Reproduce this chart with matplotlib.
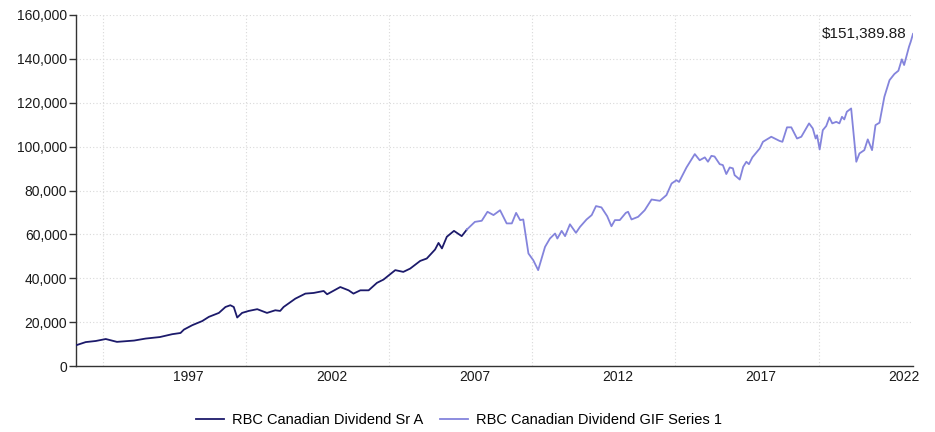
import matplotlib
matplotlib.use("Agg")
import matplotlib.pyplot as plt
import numpy as np
from matplotlib.ticker import FuncFormatter, FixedLocator

plt.rcParams['font.family'] = ['Liberation Sans', 'DejaVu Sans']

# ---- data (values in thousands of dollars) ----
series_a_name = "RBC Canadian Dividend Sr A"
series_b_name = "RBC Canadian Dividend GIF Series 1"

years_a = [1993.06, 1993.41, 1993.76, 1994.11, 1994.5, 1995.1, 1995.5, 1996.0, 1996.43, 1996.72,
           1996.84, 1997.13, 1997.48, 1997.71, 1998.06, 1998.29, 1998.46, 1998.58, 1998.70, 1998.87,
           1999.1, 1999.4, 1999.74, 2000.03, 2000.2, 2000.32, 2000.73, 2001.08, 2001.37, 2001.72,
           2001.84, 2002.3, 2002.59, 2002.76, 2003.0, 2003.29, 2003.58, 2003.81, 2004.22, 2004.5,
           2004.74, 2005.09, 2005.32, 2005.61, 2005.73, 2005.85, 2006.02, 2006.27, 2006.54, 2006.72]
values_a_k = [9.4, 10.9, 11.4, 12.3, 11.0, 11.6, 12.5, 13.2, 14.5, 15.05,
              16.6, 18.6, 20.5, 22.4, 24.2, 26.9, 27.7, 26.9, 22.1, 24.2,
              25.1, 25.9, 24.2, 25.4, 25.1, 26.9, 30.7, 33.0, 33.3, 34.2,
              32.7, 36.0, 34.5, 33.0, 34.5, 34.5, 37.9, 39.4, 43.7, 42.9,
              44.4, 47.9, 49.0, 53.1, 56.1, 53.6, 58.9, 61.6, 59.2, 62.2]

years_b = [2006.72, 2007.0, 2007.24, 2007.44, 2007.65, 2007.88, 2008.11, 2008.29, 2008.44, 2008.58,
           2008.69, 2008.87, 2009.04, 2009.21, 2009.45, 2009.62, 2009.80, 2009.88, 2010.03, 2010.15,
           2010.32, 2010.53, 2010.67, 2010.9, 2011.08, 2011.23, 2011.42, 2011.62, 2011.77, 2011.89,
           2012.06, 2012.27, 2012.35, 2012.47, 2012.70, 2012.93, 2013.17, 2013.46, 2013.69, 2013.87,
           2014.04, 2014.13, 2014.39, 2014.68, 2014.85, 2015.03, 2015.14, 2015.26, 2015.37, 2015.55,
           2015.66, 2015.78, 2015.9, 2016.01, 2016.07, 2016.25, 2016.37, 2016.48, 2016.57, 2016.69,
           2016.95, 2017.06, 2017.35, 2017.64, 2017.74, 2017.9, 2018.05, 2018.25, 2018.4, 2018.67,
           2018.8, 2018.9, 2018.95, 2019.04, 2019.15, 2019.27, 2019.38, 2019.48, 2019.62, 2019.73,
           2019.82, 2019.9, 2019.99, 2020.14, 2020.32, 2020.43, 2020.6, 2020.72, 2020.87, 2020.99,
           2021.13, 2021.30, 2021.48, 2021.65, 2021.79, 2021.91, 2021.99, 2022.16, 2022.22, 2022.30]
values_b_k = [62.2, 65.7, 66.2, 70.3, 68.8, 71.0, 65.0, 65.0, 69.8, 66.5,
              66.8, 51.3, 48.2, 43.7, 54.3, 58.1, 60.4, 58.1, 61.6, 59.2,
              64.6, 60.7, 63.4, 66.8, 68.8, 72.9, 72.3, 68.3, 63.7, 66.5,
              66.5, 69.8, 70.3, 66.8, 68.0, 71.0, 75.9, 75.3, 77.9, 83.2,
              84.7, 83.9, 90.5, 96.6, 93.8, 95.1, 93.1, 95.8, 95.5, 92.0,
              91.6, 87.5, 90.5, 90.1, 87.0, 85.0, 90.8, 93.1, 92.0, 95.1,
              99.2, 102.2, 104.5, 102.6, 102.2, 108.8, 108.8, 103.7, 104.5, 110.6,
              108.3, 103.7, 105.2, 98.7, 107.5, 109.4, 113.3, 110.6, 111.3, 110.6,
              113.6, 112.4, 115.9, 117.4, 93.1, 96.9, 98.4, 103.3, 98.4, 109.8,
              110.9, 122.7, 130.3, 133.1, 134.6, 139.8, 137.2, 145.5, 147.8, 151.38988]

x_tick_labels = [1997, 2002, 2007, 2012, 2017, 2022]
x_grid_years = [1994, 1999, 2004, 2009, 2014, 2019]
y_ticks = [0, 20000, 40000, 60000, 80000, 100000, 120000, 140000, 160000]

color_a = "#1c1a6b"
color_b = "#8484dc"

fig = plt.figure(figsize=(9.35, 4.32), dpi=100)
ax = fig.add_axes([75.7 / 935, 1 - 366 / 432, (913 - 75.7) / 935, (366 - 15) / 432])

va = np.array(values_a_k) * 1000
vb = np.array(values_b_k) * 1000
ax.plot(years_a, va, color=color_a, lw=1.3, label=series_a_name, zorder=3)
ax.plot(years_b, vb, color=color_b, lw=1.3, label=series_b_name, zorder=3)

ax.set_xlim(1993.06, 2022.30)
ax.set_ylim(0, 160000)

ax.set_yticks(y_ticks)
ax.yaxis.set_major_formatter(FuncFormatter(lambda v, p: f"{int(v):,}"))
ax.set_xticks(x_tick_labels)
ax.set_xticklabels([str(y) for y in x_tick_labels])
ax.xaxis.set_minor_locator(FixedLocator(x_grid_years))

ax.grid(axis='y', which='major', color='#d9d9d9', linestyle=(0, (1, 2)), lw=0.8)
ax.grid(axis='x', which='minor', color='#d9d9d9', linestyle=(0, (1, 2)), lw=0.8)
ax.grid(axis='x', which='major', visible=False)

ax.tick_params(axis='y', direction='out', length=5, width=1, color='#333333',
               labelsize=10, pad=1, labelcolor='#1a1a1a')
ax.tick_params(axis='x', which='both', length=0, labelsize=10, pad=3, labelcolor='#1a1a1a')

for s in ['top', 'right']:
    ax.spines[s].set_visible(False)
for s in ['left', 'bottom']:
    ax.spines[s].set_color('#333333')
    ax.spines[s].set_linewidth(1.0)

final_val = vb[-1]
ax.annotate(f"${final_val:,.2f}", xy=(years_b[-1], final_val), xytext=(-6, 0),
            textcoords='offset pixels', ha='right', va='center', fontsize=11, color='#1a1a1a')

fig.legend(loc='center', bbox_to_anchor=(0.491, 0.027), ncol=2, frameon=False,
           fontsize=10.5, handlelength=1.92, handletextpad=0.55, columnspacing=1.16)

fig.savefig("out.png", dpi=100)
